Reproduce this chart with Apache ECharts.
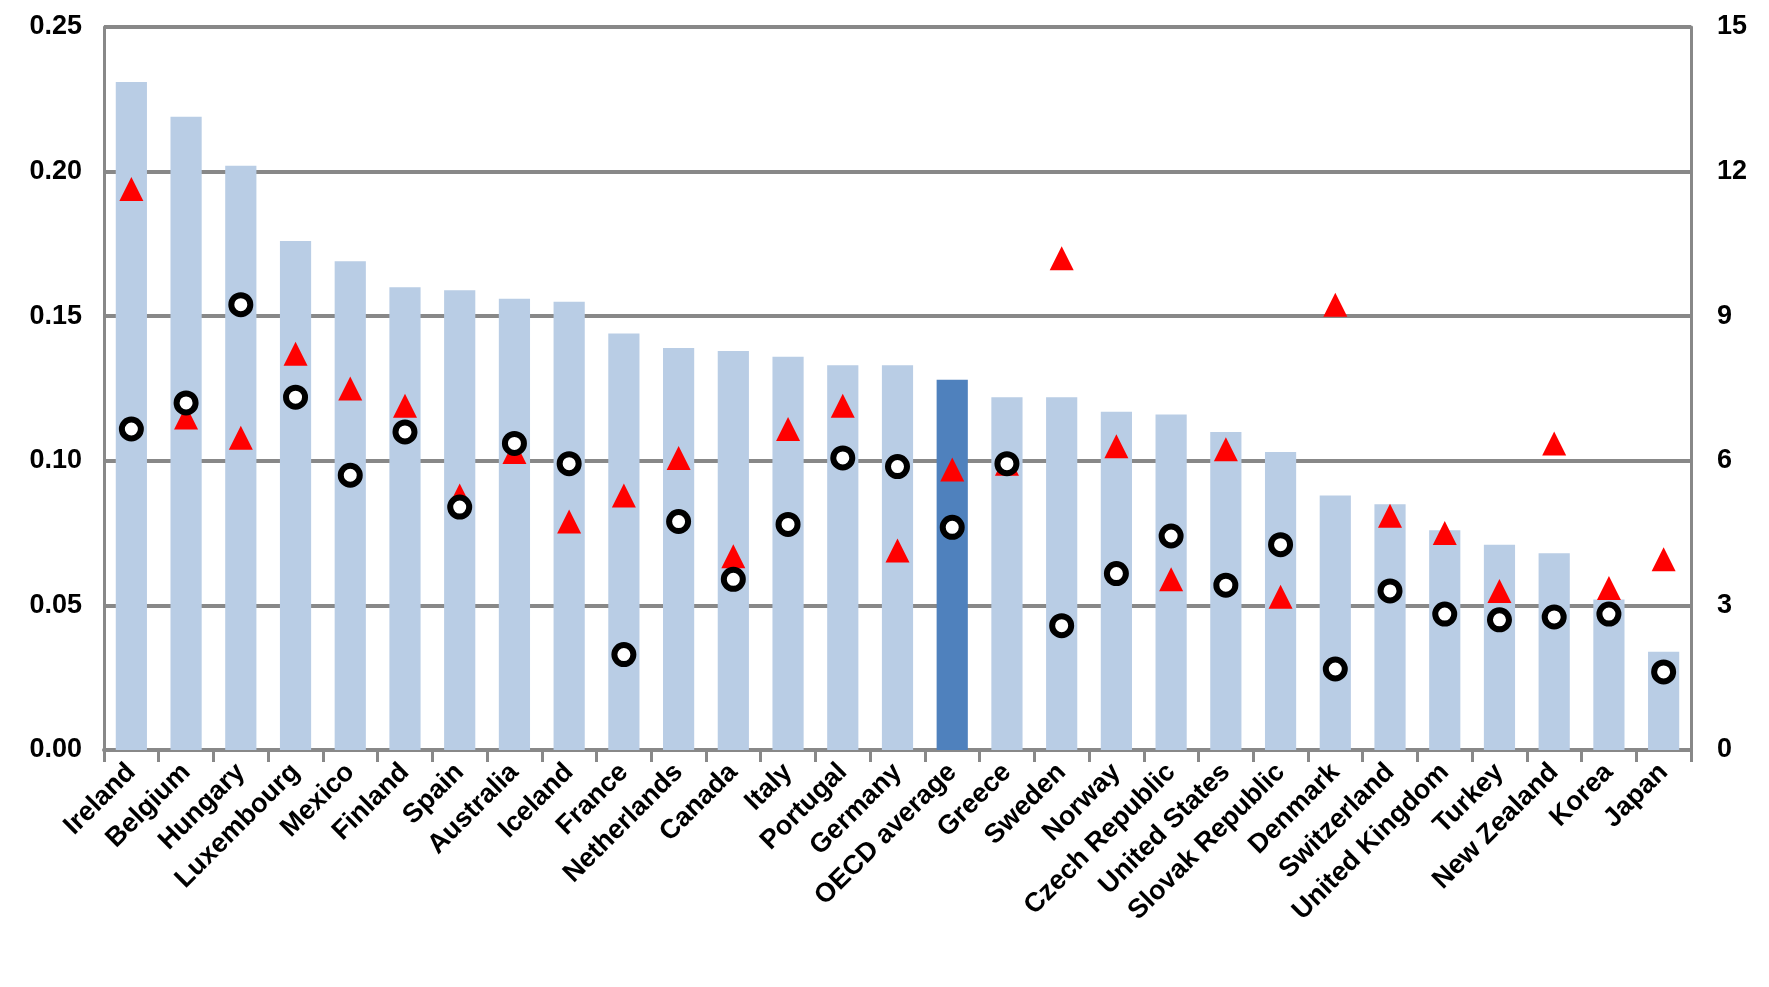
<!DOCTYPE html>
<html>
<head>
<meta charset="utf-8">
<script src="https://cdn.jsdelivr.net/npm/echarts@6/dist/echarts.min.js"></script>
<style>html,body{margin:0;padding:0;background:#fff}#chart{width:1769px;height:987px}</style>
</head>
<body>
<div id="chart"></div>
<script>
var countries = ['Ireland','Belgium','Hungary','Luxembourg','Mexico','Finland','Spain','Australia','Iceland','France','Netherlands','Canada','Italy','Portugal','Germany','OECD average','Greece','Sweden','Norway','Czech Republic','United States','Slovak Republic','Denmark','Switzerland','United Kingdom','Turkey','New Zealand','Korea','Japan'];
var barValues = [0.231,0.219,0.202,0.176,0.169,0.160,0.159,0.156,0.155,0.144,0.139,0.138,0.136,0.133,0.133,0.128,0.122,0.122,0.117,0.116,0.110,0.103,0.088,0.085,0.076,0.071,0.068,0.052,0.034];
var circleValues = [0.111,0.120,0.154,0.122,0.095,0.110,0.084,0.106,0.099,0.033,0.079,0.059,0.078,0.101,0.098,0.077,0.099,0.043,0.061,0.074,0.057,0.071,0.028,0.055,0.047,0.045,0.046,0.047,0.027];
var triangleValues = [0.194,0.115,0.108,0.137,0.125,0.119,0.088,0.103,0.079,0.088,0.101,0.067,0.111,0.119,0.069,0.097,0.099,0.170,0.105,0.059,0.104,0.053,0.154,0.081,0.075,0.055,0.106,0.056,0.066];
var rightTicks = [0, 3, 6, 9, 12, 15];

var lab = {color:'#000', fontFamily:'Liberation Sans Narrow, Liberation Sans', fontWeight:'bold', fontSize:27};
var chart = echarts.init(document.getElementById('chart'));
chart.setOption({
    animation: false,
    grid: {left: 104, right: 78, top: 27, bottom: 237},
    xAxis: {
        type: 'category', data: countries,
        axisLine: {lineStyle: {color: '#888', width: 4}},
        axisTick: {show: true, length: 12, lineStyle: {color: '#888', width: 3}},
        axisLabel: Object.assign({rotate: 45, interval: 0, margin: 18}, lab)
    },
    yAxis: [{
        type: 'value', min: 0, max: 0.25, interval: 0.05,
        axisLine: {show: true, lineStyle: {color: '#888', width: 3}},
        splitLine: {lineStyle: {color: '#888', width: 4}},
        axisLabel: Object.assign({formatter: function (v) { return v.toFixed(2); }, margin: 22}, lab)
    }, {
        type: 'value', min: 0, max: 15, interval: 3,
        axisLine: {show: true, lineStyle: {color: '#888', width: 3}},
        axisTick: {show: true, length: 10, inside: true, lineStyle: {color: '#888', width: 3}},
        splitLine: {show: false},
        axisLabel: Object.assign({margin: 26, formatter: function (v) { return rightTicks.indexOf(v) >= 0 ? v : ''; }}, lab)
    }],
    series: [{
        type: 'bar', barWidth: '57%',
        data: barValues.map(function (v, i) {
            return {value: v, itemStyle: {color: countries[i] === 'OECD average' ? '#4f81bd' : '#b9cde5'}};
        })
    }, {
        type: 'scatter', symbol: 'circle', symbolSize: 19, data: circleValues, z: 5,
        itemStyle: {color: '#fff', borderColor: '#000', borderWidth: 6, opacity: 1}
    }, {
        type: 'scatter', symbol: 'triangle', symbolSize: 24, data: triangleValues, z: 4,
        itemStyle: {color: '#ff0000', opacity: 1}
    }]
});
</script>
</body>
</html>
